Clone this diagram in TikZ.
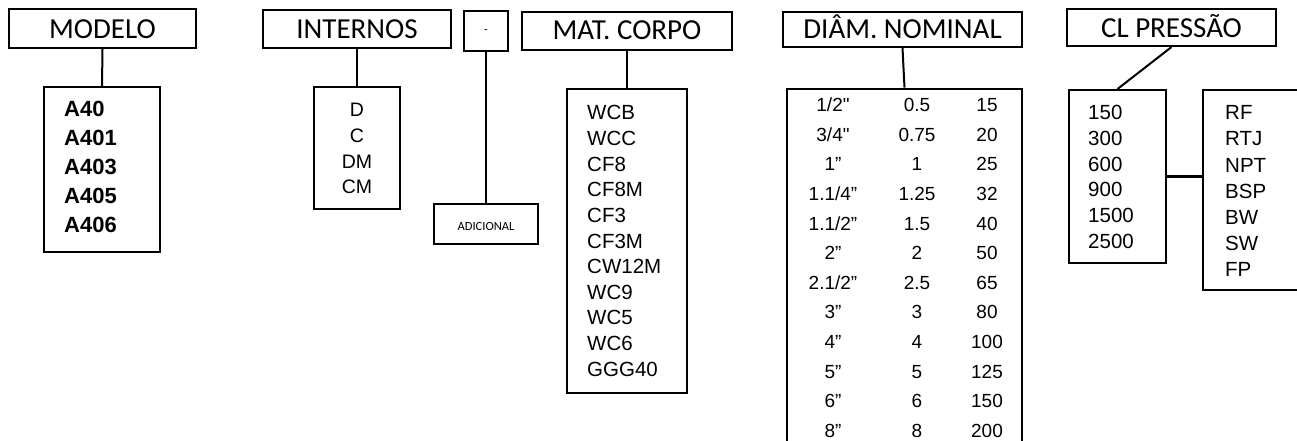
\documentclass[tikz,border=0pt]{standalone}
\usepackage{fontspec}
\newfontfamily\hdr{Carlito}
\newfontfamily\ar{Liberation Sans}
\begin{document}
\begin{tikzpicture}[x=1pt,y=-1pt,
  bx/.style={draw=black,line width=2pt,inner sep=0pt,fill=none},
  bxt/.style={draw=black,line width=2.6pt,inner sep=0pt},
  conn/.style={draw=black,line width=2pt},
  hfont/.style={font=\hdr\fontsize{29}{31}\selectfont,inner sep=0pt,anchor=base},
  tx/.style={inner sep=0pt}]
\useasboundingbox (0,0) rectangle (1297,441);
% header boxes
\node[bx,minimum width=187,minimum height=39] (hMod) at (102.5,28.5) {};
\node[bx,minimum width=188,minimum height=38] (hInt) at (357,29) {};
\node[bx,minimum width=44,minimum height=40] (hDash) at (486,31) {};
\node[bx,minimum width=210,minimum height=38] (hMat) at (627,31) {};
\node[bx,minimum width=239,minimum height=35] (hDiam) at (902.5,29.5) {};
\node[bx,minimum width=209,minimum height=37] (hCL) at (1171.5,27.5) {};
% header texts
\node[hfont] (tMod) at (102.5,39) {MODELO};
\node[hfont] (tInt) at (357,38.5) {INTERNOS};
\node[tx,font=\hdr\fontsize{12}{14}\selectfont] (tDash) at (486,32) {-};
\node[hfont] (tMat) at (627,40) {MAT. CORPO};
\node[hfont] (tDiam) at (902.5,39) {DIÂM. NOMINAL};
\node[hfont] (tCL) at (1171.5,38) {CL PRESSÃO};
% content boxes
\node[bx,minimum width=116,minimum height=165] (bMod) at (102,169.5) {};
\node[bx,minimum width=86,minimum height=122] (bInt) at (357,148) {};
\node[bx,minimum width=104,minimum height=40] (bAdic) at (486,224) {};
\node[bx,minimum width=120,minimum height=304] (bMat) at (627,241) {};
\node[bxt,minimum width=235,minimum height=400] (bDiam) at (904.5,289) {};
\node[bx,minimum width=97,minimum height=173] (bCL) at (1117.5,176.5) {};
\node[bxt,minimum width=120,minimum height=200] (bEnd) at (1263,190) {};
% connectors
\draw[conn] (hMod.south) -- (bMod.north);
\draw[conn] (hInt.south) -- (bInt.north);
\draw[conn] (hDash.south) -- (bAdic.north);
\draw[conn] (hMat.south) -- (bMat.north);
\draw[conn] (hDiam.south) -- (bDiam.north);
\draw[conn] (hCL.south) -- (bCL.north);
\draw[conn,line width=2.6pt] (bCL.east) -- (bCL.east -| bEnd.west);
% texts
\node[tx,anchor=base,font=\hdr\fontsize{12.5}{14}\selectfont] (tAdic) at (486,230) {ADICIONAL};
\foreach \t [count=\i] in {A40,A401,A403,A405,A406}
  \node[tx,anchor=base west,font=\ar\bfseries\fontsize{22}{24}\selectfont] (m\i) at ({64},{117+28.75*(\i-1)}) {\t};
\foreach \t [count=\i] in {D,C,DM,CM}
  \node[tx,anchor=base,font=\ar\fontsize{19.5}{22}\selectfont] (n\i) at ({357},{117+25.5*(\i-1)}) {\t};
\foreach \t [count=\i] in {WCB,WCC,CF8,CF8M,CF3,CF3M,CW12M,WC9,WC5,WC6,GGG40}
  \node[tx,anchor=base west,font=\ar\fontsize{20.5}{23}\selectfont] (c\i) at ({587},{120+25.6*(\i-1)}) {\t};
\foreach \a/\b/\c [count=\i] in {{1/2"}/0.5/15,{3/4"}/0.75/20,{1”}/1/25,{1.1/4”}/1.25/32,{1.1/2”}/1.5/40,{2”}/2/50,{2.1/2”}/2.5/65,{3”}/3/80,{4”}/4/100,{5”}/5/125,{6”}/6/150,{8”}/8/200}
  {
  \node[tx,anchor=base,font=\ar\fontsize{19}{22}\selectfont] (da\i) at ({833},{111.7+29.6*(\i-1)}) {\a};
  \node[tx,anchor=base,font=\ar\fontsize{19}{22}\selectfont] (db\i) at ({917},{111.7+29.6*(\i-1)}) {\b};
  \node[tx,anchor=base,font=\ar\fontsize{19}{22}\selectfont] (dc\i) at ({987},{111.7+29.6*(\i-1)}) {\c};
  }
\foreach \t [count=\i] in {150,300,600,900,1500,2500}
  \node[tx,anchor=base west,font=\ar\fontsize{20.5}{23}\selectfont] (p\i) at ({1088},{120+25.6*(\i-1)}) {\t};
\foreach \t [count=\i] in {RF,RTJ,NPT,BSP,BW,SW,FP}
  \node[tx,anchor=base west,font=\ar\fontsize{20.5}{23}\selectfont] (e\i) at ({1225},{120+26*(\i-1)}) {\t};
\end{tikzpicture}
\end{document}
